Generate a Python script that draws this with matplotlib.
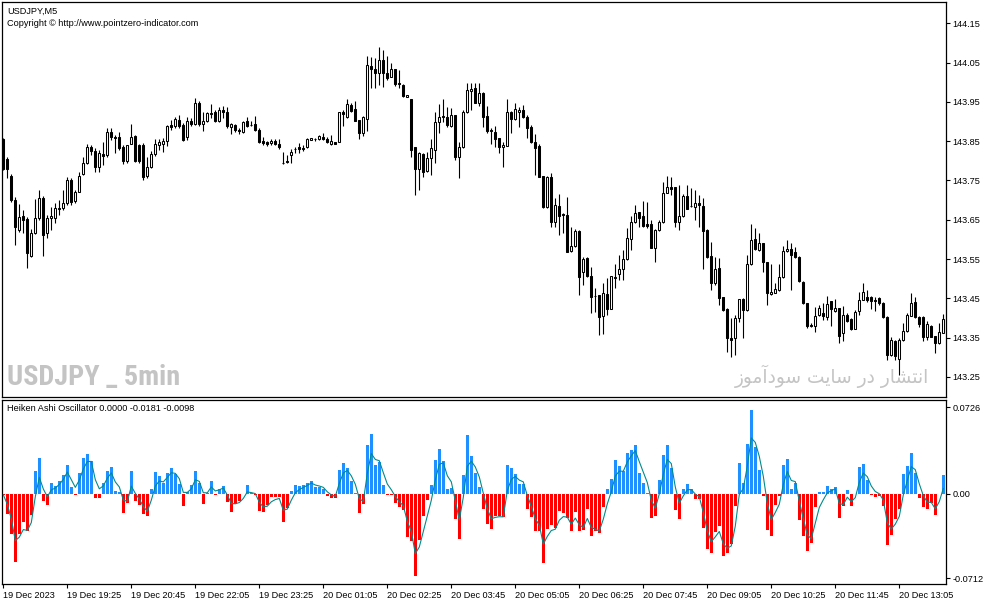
import matplotlib
matplotlib.use("Agg")
import matplotlib.pyplot as plt
from matplotlib import font_manager as fm
import numpy as np
import pandas as pd

# ---------------- data (USDJPY M5) ----------------
opens = [143.855,143.804,143.761,143.700,143.624,143.659,143.652,143.558,143.616,143.654,
         143.705,143.616,143.654,143.654,143.677,143.680,143.692,143.751,143.698,143.720,
         143.766,143.794,143.835,143.825,143.784,143.817,143.815,143.873,143.860,143.860,
         143.835,143.799,143.843,143.863,143.840,143.840,143.761,143.784,143.817,143.840,
         143.843,143.850,143.891,143.888,143.904,143.891,143.860,143.901,143.893,143.947,
         143.893,143.901,143.919,143.924,143.901,143.929,143.924,143.886,143.891,143.878,
         143.873,143.901,143.891,143.893,143.878,143.850,143.848,143.845,143.850,143.843,
         143.795,143.799,143.815,143.830,143.835,143.832,143.835,143.853,143.855,143.855,
         143.860,143.855,143.843,143.848,143.848,143.924,143.911,143.942,143.932,143.904,
         143.871,143.906,144.041,144.034,144.023,144.056,144.023,144.013,144.034,143.998,
         143.993,143.962,143.957,143.835,143.779,143.817,143.774,143.807,143.827,143.899,
         143.914,143.911,143.888,143.916,143.809,143.835,143.924,143.978,143.985,143.947,
         143.972,143.914,143.878,143.873,143.858,143.835,143.838,143.924,143.906,143.924,
         143.929,143.911,143.886,143.848,143.838,143.761,143.682,143.759,143.644,143.685,
         143.665,143.662,143.570,143.583,143.621,143.517,143.553,143.507,143.456,143.459,
         143.405,143.461,143.423,143.504,143.512,143.525,143.550,143.601,143.644,143.670,
         143.659,143.639,143.639,143.578,143.624,143.644,143.718,143.733,143.733,143.644,
         143.659,143.710,143.685,143.682,143.692,143.685,143.624,143.558,143.489,143.527,
         143.453,143.423,143.349,143.349,143.400,143.448,143.420,143.537,143.601,143.573,
         143.591,143.542,143.461,143.464,143.471,143.504,143.570,143.575,143.568,143.555,
         143.492,143.438,143.382,143.380,143.408,143.413,143.403,143.443,143.418,143.425,
         143.362,143.408,143.397,143.372,143.418,143.446,143.453,143.453,143.446,143.451,
         143.438,143.403,143.306,143.341,143.296,143.344,143.367,143.405,143.441,143.403,
         143.403,143.352,143.380,143.354,143.336,143.362]
highs = [143.858,143.810,143.766,143.708,143.690,143.675,143.657,143.626,143.703,143.726,
         143.710,143.662,143.682,143.692,143.700,143.726,143.759,143.756,143.726,143.771,
         143.809,143.843,143.840,143.832,143.827,143.848,143.883,143.883,143.866,143.873,
         143.840,143.840,143.894,143.866,143.843,143.845,143.809,143.825,143.855,143.855,
         143.858,143.891,143.904,143.911,143.916,143.896,143.911,143.909,143.960,143.952,
         143.924,143.924,143.945,143.929,143.937,143.939,143.937,143.896,143.893,143.883,
         143.901,143.911,143.901,143.914,143.883,143.860,143.850,143.855,143.855,143.855,
         143.822,143.815,143.830,143.835,143.845,143.840,143.858,143.858,143.858,143.866,
         143.871,143.860,143.866,143.848,143.924,143.929,143.957,143.947,143.952,143.904,
         143.914,144.067,144.064,144.062,144.090,144.082,144.067,144.049,144.034,144.031,
         143.995,143.967,143.957,143.835,143.822,143.820,143.822,143.855,143.924,143.945,
         143.957,143.937,143.934,143.916,143.848,143.929,143.998,143.998,143.998,143.998,
         143.975,143.939,143.883,143.888,143.858,143.848,143.957,143.927,143.947,143.937,
         143.942,143.916,143.891,143.868,143.843,143.761,143.761,143.769,143.705,143.715,
         143.667,143.708,143.631,143.626,143.624,143.555,143.555,143.530,143.476,143.459,
         143.489,143.502,143.507,143.537,143.560,143.573,143.629,143.659,143.687,143.670,
         143.698,143.695,143.649,143.626,143.649,143.746,143.761,143.759,143.733,143.738,
         143.715,143.738,143.731,143.726,143.713,143.705,143.626,143.593,143.555,143.552,
         143.453,143.425,143.400,143.408,143.448,143.451,143.560,143.639,143.629,143.616,
         143.591,143.542,143.537,143.489,143.537,143.583,143.598,143.591,143.581,143.558,
         143.494,143.438,143.387,143.428,143.433,143.438,143.456,143.443,143.448,143.425,
         143.430,143.413,143.400,143.420,143.466,143.489,143.471,143.456,143.453,143.453,
         143.441,143.405,143.352,143.344,143.349,143.387,143.413,143.464,143.453,143.405,
         143.405,143.392,143.382,143.354,143.387,143.410]
lows = [143.776,143.755,143.695,143.586,143.619,143.616,143.527,143.555,143.614,143.649,
        143.558,143.603,143.624,143.642,143.662,143.675,143.687,143.687,143.692,143.720,
        143.764,143.792,143.815,143.771,143.771,143.789,143.809,143.853,143.820,143.827,
        143.792,143.794,143.843,143.797,143.794,143.751,143.756,143.782,143.812,143.827,
        143.822,143.838,143.878,143.883,143.883,143.850,143.853,143.888,143.891,143.888,
        143.876,143.899,143.909,143.899,143.899,143.909,143.883,143.868,143.873,143.868,
        143.871,143.886,143.888,143.876,143.845,143.840,143.838,143.840,143.840,143.830,
        143.793,143.794,143.794,143.820,143.820,143.825,143.832,143.853,143.850,143.853,
        143.853,143.845,143.840,143.843,143.848,143.888,143.909,143.924,143.901,143.855,
        143.863,143.876,143.985,143.985,143.993,143.988,144.005,144.013,143.990,143.985,
        143.962,143.962,143.809,143.713,143.726,143.759,143.771,143.764,143.794,143.871,
        143.899,143.886,143.886,143.802,143.756,143.832,143.922,143.929,143.947,143.939,
        143.886,143.871,143.843,143.835,143.820,143.784,143.838,143.871,143.904,143.886,
        143.909,143.858,143.845,143.764,143.759,143.680,143.680,143.631,143.631,143.611,
        143.616,143.568,143.568,143.581,143.459,143.484,143.504,143.413,143.415,143.357,
        143.359,143.408,143.423,143.476,143.497,143.497,143.547,143.573,143.642,143.631,
        143.631,143.629,143.578,143.542,143.621,143.642,143.718,143.713,143.631,143.624,
        143.657,143.677,143.682,143.649,143.631,143.525,143.552,143.471,143.484,143.433,
        143.418,143.313,143.301,143.306,143.390,143.349,143.418,143.535,143.573,143.570,
        143.517,143.433,143.459,143.464,143.469,143.502,143.568,143.471,143.552,143.492,
        143.436,143.374,143.377,143.364,143.405,143.395,143.395,143.380,143.415,143.336,
        143.341,143.390,143.369,143.372,143.408,143.446,143.441,143.423,143.418,143.433,
        143.400,143.293,143.303,143.293,143.255,143.341,143.364,143.405,143.400,143.377,
        143.341,143.344,143.352,143.311,143.334,143.362]
closes = [143.779,143.779,143.700,143.631,143.657,143.649,143.565,143.616,143.654,143.705,
          143.611,143.654,143.659,143.680,143.680,143.692,143.751,143.695,143.720,143.761,
          143.794,143.835,143.825,143.784,143.820,143.812,143.873,143.860,143.858,143.832,
          143.799,143.840,143.860,143.799,143.799,143.759,143.784,143.817,143.843,143.848,
          143.850,143.888,143.886,143.906,143.888,143.853,143.901,143.893,143.947,143.893,
          143.901,143.922,143.922,143.901,143.929,143.924,143.888,143.893,143.878,143.876,
          143.899,143.888,143.890,143.878,143.848,143.845,143.843,143.850,143.843,143.835,
          143.794,143.797,143.822,143.829,143.830,143.830,143.855,143.858,143.855,143.863,
          143.855,143.848,143.850,143.843,143.924,143.919,143.945,143.927,143.901,143.871,
          143.911,144.044,144.034,144.023,144.056,144.023,144.011,144.034,143.995,143.995,
          143.965,143.967,143.827,143.779,143.820,143.771,143.807,143.832,143.899,143.911,
          143.911,143.891,143.916,143.809,143.835,143.924,143.980,143.983,143.947,143.972,
          143.911,143.876,143.877,143.855,143.835,143.840,143.924,143.906,143.932,143.929,
          143.911,143.883,143.848,143.832,143.759,143.682,143.759,143.644,143.687,143.659,
          143.663,143.568,143.583,143.621,143.504,143.550,143.507,143.453,143.455,143.403,
          143.464,143.423,143.507,143.503,143.525,143.550,143.603,143.644,143.667,143.654,
          143.634,143.634,143.578,143.624,143.644,143.718,143.733,143.728,143.644,143.659,
          143.710,143.677,143.684,143.692,143.687,143.621,143.555,143.489,143.525,143.451,
          143.420,143.349,143.344,143.400,143.448,143.420,143.537,143.598,143.575,143.591,
          143.542,143.464,143.466,143.474,143.504,143.570,143.575,143.560,143.555,143.494,
          143.438,143.380,143.380,143.405,143.425,143.405,143.436,143.423,143.425,143.354,
          143.408,143.392,143.372,143.415,143.446,143.466,143.446,143.443,143.444,143.438,
          143.403,143.306,143.344,143.303,143.344,143.367,143.408,143.438,143.403,143.385,
          143.352,143.385,143.352,143.336,143.364,143.397]

# Heiken Ashi Oscillator histogram values
osc = [-0.0010,-0.0168,-0.0336,-0.0577,-0.0336,-0.0238,-0.0316,-0.0176,0.0193,0.0300,
       -0.0059,-0.0092,0.0090,0.0062,0.0109,0.0160,0.0244,0.0053,-0.0011,0.0174,
       0.0300,0.0333,0.0272,-0.0036,-0.0036,0.0090,0.0193,0.0221,0.0022,0.0014,
       -0.0162,-0.0078,0.0193,-0.0059,-0.0092,-0.0171,-0.0188,0.0039,0.0182,0.0151,
       0.0090,0.0174,0.0216,0.0165,0.0081,-0.0104,0.0010,0.0070,0.0193,0.0090,
       -0.0087,0.0006,0.0106,-0.0011,0.0042,0.0062,-0.0070,-0.0154,-0.0087,-0.0064,
       -0.0006,0.0070,0.0003,-0.0008,-0.0143,-0.0154,-0.0098,-0.0031,-0.0031,-0.0031,
       -0.0238,-0.0120,0.0020,0.0070,0.0062,0.0070,0.0087,0.0109,0.0056,0.0056,
       0.0042,-0.0022,-0.0036,-0.0036,0.0196,0.0260,0.0218,0.0104,0.0008,-0.0162,
       -0.0090,0.0406,0.0504,0.0238,0.0266,0.0076,-0.0014,-0.0014,-0.0081,-0.0112,
       -0.0134,-0.0364,-0.0400,-0.0692,-0.0392,-0.0190,-0.0056,0.0076,0.0286,0.0378,
       0.0272,0.0042,0.0048,-0.0216,-0.0384,0.0160,0.0490,0.0316,0.0176,0.0056,
       -0.0132,-0.0258,-0.0294,-0.0188,-0.0188,-0.0196,0.0244,0.0216,0.0168,0.0084,
       0.0084,-0.0132,-0.0196,-0.0316,-0.0316,-0.0585,-0.0294,-0.0260,-0.0288,-0.0148,
       -0.0162,-0.0202,-0.0316,-0.0154,-0.0316,-0.0308,-0.0132,-0.0358,-0.0316,-0.0328,
       -0.0115,0.0042,0.0120,0.0280,0.0230,0.0188,0.0344,0.0370,0.0406,0.0176,
       0.0092,0.0006,-0.0204,-0.0190,0.0118,0.0328,0.0412,0.0218,-0.0140,-0.0216,
       0.0042,0.0084,0.0036,-0.0042,-0.0048,-0.0286,-0.0468,-0.0496,-0.0322,-0.0272,
       -0.0524,-0.0496,-0.0420,-0.0106,0.0260,0.0092,0.0420,0.0706,0.0392,0.0196,
       -0.0020,-0.0308,-0.0356,-0.0098,-0.0020,0.0244,0.0294,0.0036,0.0092,-0.0224,
       -0.0356,-0.0482,-0.0412,-0.0115,0.0014,0.0014,0.0064,0.0042,0.0056,-0.0204,
       -0.0104,0.0034,-0.0104,0.0000,0.0224,0.0252,0.0112,-0.0014,-0.0028,-0.0020,
       -0.0104,-0.0434,-0.0350,-0.0216,-0.0126,0.0168,0.0232,0.0344,0.0176,-0.0036,
       -0.0115,-0.0126,-0.0076,-0.0182,-0.0006,0.0154]

price_ticks = [144.15, 144.05, 143.95, 143.85, 143.75, 143.65, 143.55, 143.45, 143.35, 143.25]
osc_ticks = [0.0726, 0.0, -0.0712]
osc_tick_labels = ["0.0726", "0.00", "-0.0712"]
time_tick_pos = [0, 16, 32, 48, 64, 80, 96, 112, 128, 144, 160, 176, 192, 208, 224]
time_labels = ["19 Dec 2023", "19 Dec 19:25", "19 Dec 20:45", "19 Dec 22:05", "19 Dec 23:25",
               "20 Dec 01:05", "20 Dec 02:25", "20 Dec 03:45", "20 Dec 05:05", "20 Dec 06:25",
               "20 Dec 07:45", "20 Dec 09:05", "20 Dec 10:25", "20 Dec 11:45", "20 Dec 13:05"]

# Persian watermark in Arabic presentation forms, laid out left-to-right for display
persian = ("\uFEAF\uFEEE\uFEE3\uFE81\uFEA9\uFEEE\uFEB3 "
           "\uFE96\uFEF3\uFE8E\uFEB3 "
           "\uFEAD\uFEA9 "
           "\uFEAD\uFE8E\uFEB8\uFE98\uFEE7\uFE8D")

# ---------------- watermark font choice (narrow bold if available) ----------------
_fonts = {}
for _f in fm.fontManager.ttflist:
    _fonts.setdefault(_f.name, set()).add(str(_f.stretch))
if "Liberation Sans Narrow" in _fonts:
    wm_font = dict(family=["Liberation Sans Narrow"], size=22)
elif "Roboto Condensed" in _fonts:
    wm_font = dict(family=["Roboto Condensed"], size=20.3)
elif any(s in ("condensed", "semi-condensed") for s in _fonts.get("DejaVu Sans", ())):
    wm_font = dict(family=["DejaVu Sans"], stretch="condensed", size=18.2)
else:
    wm_font = dict(family=["Liberation Sans"], size=17.8)

# ---------------- drawing ----------------
W, H = 987, 605
fig = plt.figure(figsize=(W / 100, H / 100), dpi=100)
fig.patch.set_facecolor("white")
small = dict(family=["Liberation Sans", "DejaVu Sans"], size=6.6)

ax1 = fig.add_axes([2 / W, (H - 397) / H, 944 / W, 395 / H])
ax2 = fig.add_axes([2 / W, (H - 584) / H, 944 / W, 184 / H])

O = np.array(opens); Hh = np.array(highs); L = np.array(lows); C = np.array(closes)
x = np.arange(len(O))
up = C >= O

ax1.vlines(x, L, Hh, color="black", linewidth=0.8, zorder=2)
ax1.bar(x, np.abs(C - O), bottom=np.minimum(O, C), width=0.5,
        color=np.where(up, "white", "black"), edgecolor="black", linewidth=0.75, zorder=3)

ax1.set_xlim(-0.33, 235.68)
ax1.set_ylim(143.199, 144.204)
ax1.set_xticks([])
ax1.yaxis.tick_right()
ax1.set_yticks(price_ticks)
ax1.set_yticklabels([f"{v:.2f}" for v in price_ticks], **small)
ax1.tick_params(axis="y", direction="out", length=3, width=0.8, pad=1.5, colors="black")

osc_arr = np.array(osc)
signal = pd.Series(osc_arr).ewm(alpha=0.5, adjust=False).mean().values
ax2.bar(x, osc_arr, width=0.75, color=np.where(osc_arr >= 0, "#1E90FF", "#FF0000"), zorder=2)
ax2.plot(x, signal, color="#008B8B", linewidth=0.8, zorder=3)
ax2.set_xlim(-0.33, 235.68)
ax2.set_ylim(-0.0759, 0.0787)
ax2.yaxis.tick_right()
ax2.set_yticks(osc_ticks)
ax2.set_yticklabels(osc_tick_labels, **small)
ax2.tick_params(axis="y", direction="out", length=3, width=0.8, pad=1.5)
ax2.set_xticks(time_tick_pos)
ax2.set_xticklabels(time_labels, ha="left", **small)
ax2.tick_params(axis="x", direction="out", length=3, width=0.8, pad=2)

for ax in (ax1, ax2):
    for s in ax.spines.values():
        s.set_linewidth(0.9)
        s.set_color("black")

def ft(px, py, s, **kw):
    fig.text(px / W, 1 - py / H, s, va="center", ha="left", **kw)

ft(7, 11, "USDJPY,M5", **small)
ft(7, 24, "Copyright \u00a9 http://www.pointzero-indicator.com", **small)
ft(7, 408.5, "Heiken Ashi Oscillator 0.0000 -0.0181 -0.0098", **small)
ft(7, 377, "USDJPY _ 5min", weight="bold", color="#C4C4C4", **wm_font)
fig.text(929 / W, 1 - 376 / H, persian, va="center", ha="right",
         family=["DejaVu Sans"], size=13.4, color="#C4C4C4")

fig.savefig("out.png", dpi=100, facecolor="white")
